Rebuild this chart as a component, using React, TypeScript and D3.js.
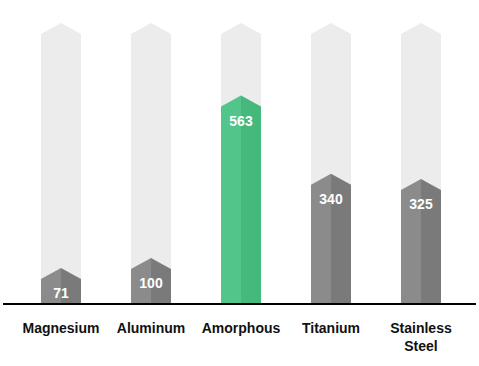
import * as d3 from "d3";
import { useEffect, useRef } from "react";

const categories = ["Magnesium", "Aluminum", "Amorphous", "Titanium", "Stainless Steel"];
const values = [71, 100, 563, 340, 325];
const highlight = "Amorphous";
const maxValue = 770;

const width = 479;
const height = 366;
const margin = { top: 34, right: 3, bottom: 62, left: 3 };
const arrow = 11;
const font = "'Liberation Sans', Arial, Helvetica, sans-serif";

export default function App() {
  const ref = useRef<SVGSVGElement>(null);

  useEffect(() => {
    if (!ref.current) return;
    const svg = d3.select(ref.current);
    svg.selectAll("*").remove();

    const x = d3
      .scaleBand()
      .domain(categories)
      .range([16, 466])
      .paddingInner(0.5556)
      .paddingOuter(0.2778);

    const y = d3
      .scaleLinear()
      .domain([0, maxValue])
      .range([height - margin.bottom, margin.top]);

    const bw = x.bandwidth();
    const base = y(0);

    const shape = (cx: number, top: number, half: number) => {
      const p = d3.path();
      p.moveTo(cx - half, base);
      p.lineTo(cx - half, top);
      p.lineTo(cx, top - arrow);
      p.lineTo(cx + half, top);
      p.lineTo(cx + half, base);
      p.closePath();
      return p.toString();
    };
    const halfShape = (cx: number, top: number, side: number) => {
      const p = d3.path();
      p.moveTo(cx, base);
      p.lineTo(cx, top - arrow);
      p.lineTo(cx + side * (bw / 2), top);
      p.lineTo(cx + side * (bw / 2), base);
      p.closePath();
      return p.toString();
    };

    const data = categories.map((c, i) => ({ c, v: values[i] }));

    const g = svg.append("g");
    g.selectAll("path.bg")
      .data(data)
      .join("path")
      .attr("class", "bg")
      .attr("d", (d) => shape(x(d.c)! + bw / 2, y(maxValue), bw / 2))
      .attr("fill", "#ececec");

    g.selectAll("path.left")
      .data(data)
      .join("path")
      .attr("class", "left")
      .attr("d", (d) => halfShape(x(d.c)! + bw / 2, y(d.v), -1))
      .attr("fill", (d) => (d.c === highlight ? "#52c58b" : "#8b8b8b"));

    g.selectAll("path.right")
      .data(data)
      .join("path")
      .attr("class", "right")
      .attr("d", (d) => halfShape(x(d.c)! + bw / 2, y(d.v), 1))
      .attr("fill", (d) => (d.c === highlight ? "#45b97c" : "#7a7a7a"));

    g.selectAll("text.val")
      .data(data)
      .join("text")
      .attr("class", "val")
      .attr("x", (d) => x(d.c)! + bw / 2)
      .attr("y", (d) => Math.min(y(d.v) + 19, base - 5))
      .attr("text-anchor", "middle")
      .attr("fill", "#fff")
      .attr("font-family", font)
      .attr("font-weight", "bold")
      .attr("font-size", 14)
      .text((d) => d.v);

    svg
      .append("line")
      .attr("x1", margin.left)
      .attr("x2", width - margin.right)
      .attr("y1", base)
      .attr("y2", base)
      .attr("stroke", "#000")
      .attr("stroke-width", 2);

    const labels = svg
      .append("g")
      .selectAll("text")
      .data(categories)
      .join("text")
      .attr("x", (d) => x(d)! + bw / 2)
      .attr("y", 332.5)
      .attr("text-anchor", "middle")
      .attr("fill", "#111")
      .attr("font-family", font)
      .attr("font-weight", "bold")
      .attr("font-size", 14);
    labels
      .selectAll("tspan")
      .data((d) => d.split(" "))
      .join("tspan")
      .attr("x", function () {
        return (this.parentNode as SVGTextElement).getAttribute("x");
      })
      .attr("dy", (_, i) => (i === 0 ? 0 : 18))
      .text((d) => d);

    return () => {
      svg.selectAll("*").remove();
    };
  }, []);

  return (
    <svg
      ref={ref}
      width={width}
      height={height}
      style={{ position: "absolute", left: 0, top: 0, background: "#fff" }}
    />
  );
}
